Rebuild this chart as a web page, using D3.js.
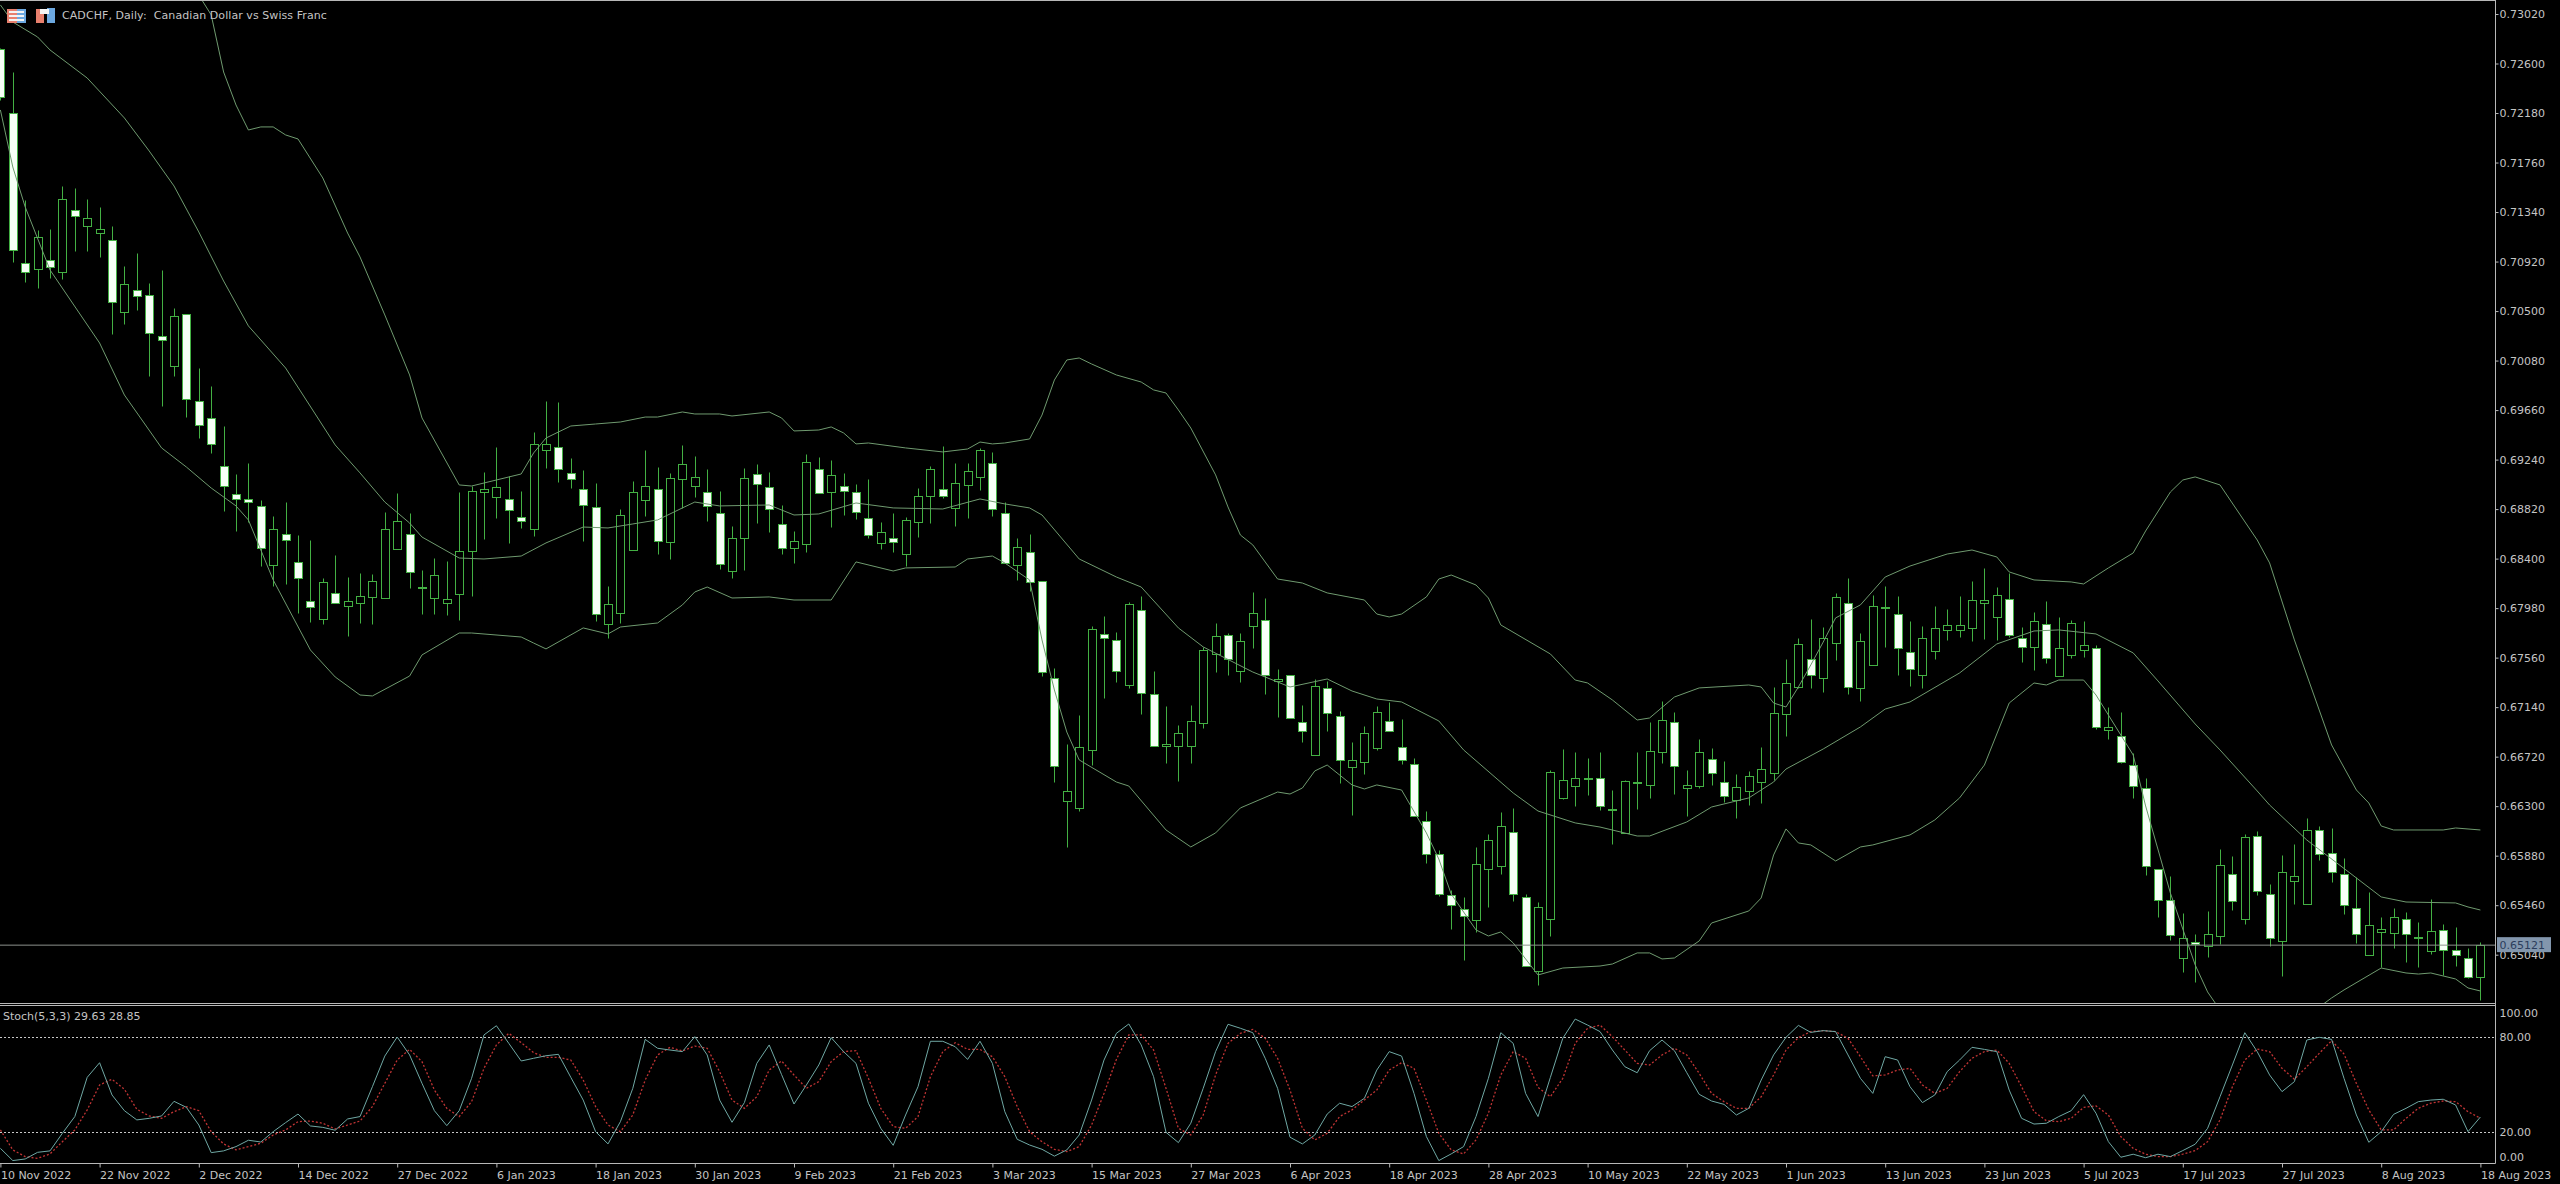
<!DOCTYPE html>
<html lang="en">
<head>
    <meta charset="UTF-8">
    <title>CADCHF, Daily</title>
    <script src="https://d3js.org/d3.v7.min.js"></script>
    <style>
        html, body { margin: 0; background: #000; overflow: hidden; }
        text { font-family: "DejaVu Sans", sans-serif; font-size: 11px; fill: #c4c4c4; }
        .domain { display: none; }
        .tick line { stroke: #b8b8b8; }
    </style>
</head>
<body>

<script>
// prices are in points (1 point = 0.00001)
const open = [
    72723,72180,70908,70857,70933,70832,71358,71222,71162,71103,
    70492,70679,70637,70289,70034,70475,69737,69593,69186,68948,
    68906,68847,68346,68609,68372,68041,67888,68109,67998,68024,
    68075,68066,68482,68609,68151,68066,68024,68100,68465,68965,
    68923,68906,68753,68651,69322,69347,69127,68991,68838,67846,
    67939,68473,68897,68991,68541,69076,69016,68965,68787,68295,
    68575,69118,69008,68694,68490,68524,69160,68965,69016,68965,
    68745,68533,68575,68439,68711,68931,68991,68830,69025,69093,
    69211,68787,68346,68456,68210,67387,66344,66285,66777,67761,
    67710,67328,67964,67252,66811,66811,66811,67006,67591,67752,
    67447,67829,67880,67362,67413,67014,66734,67303,67065,66632,
    66675,66794,67023,66802,66658,66174,65894,65547,65428,65335,
    65767,65793,66081,65530,64902,65343,66370,66471,66531,66539,
    66268,66073,66497,66480,66760,67014,66454,66471,66700,66505,
    66353,66429,66505,66582,67082,67311,67549,67387,67684,68024,
    67303,67498,67981,67930,67608,67413,67617,67795,67795,67812,
    68024,67905,68058,67727,67651,67846,67404,67583,67625,67642,
    66946,66895,66649,66454,65767,65504,65012,65148,65114,65199,
    65725,65343,66047,65555,65157,65665,65470,66098,65903,65725,
    65436,65038,65233,65224,65343,65182,65071,65250,65080,65012,64851
];
const close = [
    72316,71018,70832,71128,70874,71451,71307,71290,71196,70577,
    70730,70628,70314,70255,70458,69754,69534,69373,69016,68906,
    68880,68490,68651,68558,68236,67990,68202,68024,68041,68083,
    68210,68651,68719,68287,68159,68261,68058,68465,68974,68991,
    69008,68813,68719,69373,69373,69160,69076,68855,67930,68015,
    68770,68965,69016,68550,69084,69203,69093,68847,68355,68575,
    69084,69033,68821,68490,68550,69220,68957,69110,68974,68796,
    68600,68626,68541,68728,68931,69160,68931,69042,69143,69322,
    68821,68363,68499,68202,67438,66641,66425,66802,67803,67727,
    67447,68015,67260,66811,66828,66921,67023,67625,67744,67549,
    67701,67939,67413,67379,67049,66938,67320,67091,66692,66692,
    66921,67099,66938,66692,66217,65894,65555,65462,65368,65810,
    66013,66132,65555,64944,65445,66590,66522,66539,66539,66302,
    66276,66514,66505,66768,67031,66641,66480,66760,66582,66387,
    66463,66556,66615,67091,67345,67676,67413,67727,68075,67311,
    67701,67998,67990,67642,67464,67727,67812,67837,67837,68049,
    68049,68091,67752,67651,67871,67557,67642,67854,67667,66972,
    66972,66675,66471,65793,65504,65207,65182,65131,65216,65801,
    65496,66039,65580,65182,65742,65708,66098,65894,65742,65462,
    65216,65292,65258,65360,65216,65190,65241,65080,65038,64851,65121
];
const high = [
    72732,72528,71442,71188,71196,71561,71544,71451,71383,71222,
    70883,70993,70738,70849,70526,70475,70017,69864,69525,69118,
    69211,68897,68762,68880,68600,68558,68236,68431,68244,68278,
    68270,68796,68957,68787,68304,68405,68380,68965,69016,69135,
    69347,69101,68974,69474,69737,69729,69254,69152,69042,68168,
    68821,69059,69322,69177,69127,69364,69271,69160,68974,68677,
    69169,69203,69135,68855,68634,69288,69262,69237,69127,69033,
    69076,68711,68787,68753,68999,69186,69355,69211,69211,69339,
    69305,68880,68575,68609,68210,67472,66828,67074,67829,67913,
    67778,68032,68083,67447,67150,66989,67158,67651,67854,67769,
    67769,68117,68066,67464,67413,67158,67379,67362,67107,66845,
    66980,67150,67184,67040,66709,66259,65928,65589,65530,65954,
    66064,66251,66285,65555,65487,66607,66785,66760,66709,66760,
    66437,66522,66760,67014,67192,67099,66607,66870,66794,66683,
    66573,66599,66802,67311,67549,67727,67888,67820,68109,68236,
    67769,68091,68168,68083,67871,67829,67998,67973,68083,68210,
    68321,68159,68278,67820,67947,68041,67905,67880,67871,67667,
    67141,67099,66751,66539,65767,65708,65394,65216,65411,65937,
    65877,66064,66089,65640,65886,65979,66200,66132,66115,65860,
    65699,65572,65360,65436,65402,65318,65513,65301,65275,65097,65148
];
const low = [
    72291,70916,70747,70696,70781,70772,71010,71010,70959,70306,
    70390,70509,69949,69695,69949,69601,69423,69296,68804,68634,
    68711,68337,68168,68185,67939,67863,67846,68024,67744,67854,
    67846,68066,68482,68151,67930,67930,67922,67880,68083,68567,
    68745,68533,68660,68592,69169,69050,68999,68550,67871,67727,
    67854,68473,68762,68439,68397,68830,68923,68719,68312,68236,
    68304,68702,68626,68439,68363,68456,68957,68668,68770,68736,
    68575,68482,68456,68337,68583,68702,68914,68677,68745,68982,
    68762,68363,68219,68126,67404,66505,65954,66259,66649,67218,
    67354,67303,67082,66811,66666,66514,66666,66963,67438,67413,
    67354,67642,67252,67057,67049,66845,66734,66938,66497,66225,
    66573,66777,66938,66658,66217,65818,65538,65258,64995,65233,
    65445,65725,65496,64944,64783,65199,66361,66302,66395,66268,
    65979,66073,66276,66370,66666,66403,66217,66454,66480,66336,
    66200,66310,66327,66522,66895,67303,67303,67269,67540,67252,
    67192,67498,67651,67413,67320,67303,67549,67710,67735,67701,
    67718,67710,67735,67523,67455,67515,67404,67557,67566,66955,
    66870,66666,66370,65716,65360,65165,64893,64809,65021,65131,
    65419,65301,65547,65114,64860,65470,65470,65843,65657,65385,
    65140,65038,64936,65097,64978,64936,65046,64868,64944,64843,64656
];

// bollinger bands, read at the bars where the curves can be read
const upperBars = [
    10,16,17,18,19,20,21,22,23,24,26,28,29,31,33,34,37,38,40,42,
    43,44,46,48,50,52,53,55,56,58,59,62,63,64,66,67,68,69,70,73,
    76,78,79,80,81,83,84,85,86,87,88,90,92,93,94,95,96,98,99,100,
    101,103,105,107,110,111,112,113,115,116,117,119,120,121,125,127,128,130,132,133,
    135,137,141,142,143,144,145,146,147,148,150,152,154,157,159,161,162,164,167,168,
    170,172,173,175,176,177,179,182,183,185,187,188,190,191,192,193,197,198,200
];
const upperBand = [
    74242,73181,73012,72528,72248,72036,72062,72062,71994,71960,71629,71162,70959,70467,69958,69593,69025,69016,69067,69118,
    69296,69423,69525,69542,69559,69601,69601,69644,69627,69627,69610,69644,69593,69483,69491,69517,69466,69373,69381,69339,
    69305,69330,69389,69373,69381,69415,69618,69915,70085,70102,70051,69958,69898,69831,69805,69661,69508,69110,68838,68600,
    68516,68227,68193,68109,68049,67930,67905,67930,68075,68227,68261,68176,68066,67837,67591,67370,67345,67201,67031,67048,
    67226,67303,67328,67311,67175,67141,67311,67498,67692,67897,68007,68244,68337,68439,68473,68414,68287,68219,68202,68185,
    68321,68448,68634,68965,69067,69093,69025,68558,68363,67710,67116,66819,66437,66327,66132,66098,66098,66115,66098
];
const middleBars = [
    0,1,3,4,7,10,12,14,16,18,20,23,27,29,31,33,34,37,39,42,
    44,47,49,51,53,55,56,58,62,64,66,69,72,76,79,81,83,84,87,90,
    92,95,97,101,104,107,109,111,113,116,118,122,124,127,129,132,133,136,138,141,
    143,144,147,150,152,154,158,161,164,166,169,172,174,177,179,182,183,186,190,192,
    194,198,199,200
];
const middleBand = [
    73097,72952,72825,72715,72477,72138,71858,71561,71171,70755,70374,70017,69364,69127,68880,68702,68583,68405,68397,68422,
    68533,68668,68660,68694,68728,68830,68880,68847,68855,68770,68779,68872,68830,68821,68906,68864,68830,68770,68397,68244,
    68159,67812,67651,67438,67311,67379,67277,67209,67184,67023,66777,66412,66259,66158,66123,66047,66047,66166,66293,66370,
    66505,66615,66785,66972,67124,67184,67430,67676,67786,67795,67761,67600,67362,66997,66777,66429,66310,66013,65691,65530,
    65487,65479,65445,65419
];
const lowerBars = [
    0,1,2,4,8,10,13,15,17,19,20,22,25,27,29,30,33,34,37,38,
    42,43,44,47,49,50,53,55,56,57,59,62,64,67,69,72,73,77,78,80,
    81,83,84,85,86,87,90,91,94,96,98,100,103,104,105,106,107,109,110,111,
    113,115,116,117,119,120,121,122,124,126,129,130,132,133,134,135,137,138,141,142,
    143,144,145,146,148,150,151,154,156,158,160,162,164,165,166,168,169,172,173,175,
    177,178,179,181,183,185,187,188,189,192,194,195,196,198,199,200
];
const lowerBand = [
    72206,71722,71383,70849,70229,69788,69339,69177,68999,68847,68728,68219,67625,67396,67243,67235,67404,67583,67769,67769,
    67735,67684,67634,67812,67761,67820,67854,68007,68117,68159,68066,68075,68049,68049,68372,68295,68321,68329,68397,68422,
    68363,68219,67710,67286,66929,66692,66505,66471,66098,65954,66073,66285,66420,66403,66454,66599,66649,66480,66446,66480,
    66437,66073,65852,65555,65250,65199,65233,65140,64868,64927,64944,64961,65055,65055,65004,65012,65157,65309,65411,65521,
    65886,66107,65988,65971,65835,65954,65971,66056,66183,66370,66649,67175,67345,67328,67370,67370,67243,66734,66302,65563,
    64953,64724,64571,64274,63977,64401,64596,64673,64741,64927,64885,64876,64885,64834,64758,64732
];

// Stoch(5,3,3), one value a bar
const stochMain = [
    9.9,2.2,3.2,7.4,8.3,19.4,29.9,54.6,63.8,43.5,33.6,27.8,28.8,30.3,39.5,35.7,24.6,7.2,8.3,11,15,13.9,20.4,26.1,31.5,24,23.1,21.3,28.4,29.9,48.7,68,80,68.7,50.8,33.6,24.2,33.6,54,81.3,87.1,
    76,64.9,66.6,68.2,69.1,54.6,40.3,20.4,12.7,26.7,47.7,78.5,72.9,71.8,70.8,80.2,68.7,40.3,26.3,38.7,63.4,75,56.3,37.8,49.8,62.4,79.6,70.8,63.4,38.3,22.5,11.8,30.9,48.7,77.3,77.3,73.9,65.9,77.3,63.4,33,
    15.6,12,9.3,5,8.9,18.3,40.3,65.5,82.3,88.2,75,55,20,13.5,25.7,47.7,70.8,88,85.5,82.7,66.6,47.7,16.9,12.7,18.3,31.5,38.3,36.2,41.4,59.2,70.8,68,44.5,17.3,2.2,6.4,11,29.9,54,82.7,76,
    44.5,29.9,54.6,79.2,91.3,87.5,83.4,71.8,61.3,57.5,71.4,78.1,71.4,57.5,43.9,39.7,37.6,30.9,35.1,52.9,68.7,79.8,87.3,82.9,84,83.4,68.7,54,44.5,67.6,65.5,48.7,38.7,43.5,58.2,65.5,73.5,72.2,70.8,46.6,28.8,
    25.2,25.7,29.9,33.6,43.7,32,14.1,4.3,6.2,4,6.2,4.7,8.5,12.5,22.5,42.4,62.4,82.7,70.8,56.1,45.6,51.9,78.1,79.8,78.5,54,30.9,13.7,20.4,31.3,35.1,39.3,40.3,40.8,37.2,20.4,29.63
];
const stochSignal = [
    21.5,8.9,4.7,3.6,6.4,14.1,21.5,34.1,49.8,53.4,47.1,34.5,30.3,28.8,33,36.2,33.6,20.4,12.7,8.9,11,13.1,18.3,21.5,26.7,27.1,25.7,22.1,24.6,27.1,36.2,50.8,65.5,72.2,64.5,46.6,35.1,29.9,39.3,60.3,75,
    82.3,76.4,70.1,67.2,67.2,65.5,52.9,36.2,24.6,20.4,30.9,52.9,68.7,73.5,71.2,74.3,72.9,58.2,40.3,35.1,42.4,59.2,64.9,56.1,47.7,51.9,64.5,70.8,71.4,54,35.1,23.6,22.5,29.9,55,70.8,76.4,72.2,72.2,67.6,55,
    36.2,20.4,14.1,9.3,7.8,11,24.6,44.5,65.9,81.3,81.3,71.8,47.7,22.5,18.3,30.9,56.1,76,82.3,84.8,79.2,66.6,46.6,22.5,15.2,19.4,29.9,34.1,40.3,46.6,59.2,63.8,60.3,40.3,19.4,8.9,6.4,15.2,32,56.1,70.8,
    66.6,48.3,42.4,54,76,85.5,87.5,80.2,71.8,63.4,62.4,68.7,72.9,68.7,57.1,44.5,39.3,35.1,35.1,42.4,56.1,71.8,79.6,83.4,84,83.4,79.2,67.6,55.5,56.1,59.2,60.3,49.8,44.5,47.7,58.2,66.6,70.8,71.8,63.4,48.7,
    33,27.3,26.7,28.8,35.7,36.6,30.9,17.3,9.9,6.2,4.7,4.7,6.2,8.5,14.1,27.8,48.7,65.5,72.4,70.8,60.3,53.4,61.3,69.7,77.7,69.3,50.8,34.1,21.5,21.5,28.8,35.1,38.3,39.7,39.3,33,28.85
];

const priceTicks = [73020,72600,72180,71760,71340,70920,70500,70080,69660,69240,68820,68400,67980,67560,67140,66720,66300,65880,65460,65040];
const stochTicks = [100,80,20,0];
const stochLevels = [80,20];
const dateLabels = ["10 Nov 2022","22 Nov 2022","2 Dec 2022","14 Dec 2022","27 Dec 2022","6 Jan 2023","18 Jan 2023","30 Jan 2023","9 Feb 2023","21 Feb 2023","3 Mar 2023","15 Mar 2023","27 Mar 2023","6 Apr 2023","18 Apr 2023","28 Apr 2023","10 May 2023","22 May 2023","1 Jun 2023","13 Jun 2023","23 Jun 2023","5 Jul 2023","17 Jul 2023","27 Jul 2023","8 Aug 2023","18 Aug 2023"];
const dateBars = [0,8,16,24,32,40,48,56,64,72,80,88,96,104,112,120,128,136,144,152,160,168,176,184,192,200];
const lastPrice = 65121;

const width = 2560, height = 1184;
const axisX = 2495.5, mainBottom = 1003.5, stochTop = 1005.5, stochBottom = 1163.5;

const green = "#43b043", bandColor = "#6f9a6f", grey = "#b8b8b8";

const x = d3.scaleLinear().domain([0, 200]).range([0.4, 2480.4]);
const y = d3.scaleLinear().domain([73020, 65040]).range([14, 954.7]);
const yStoch = d3.scaleLinear().domain([80, 20]).range([1037, 1132.3]);
const px = i => Math.round(x(i)) + 0.5;
const py = v => Math.round(y(v)) + 0.5;

const svg = d3.select("body").append("svg")
    .attr("width", width)
    .attr("height", height)
    .style("display", "block")
    .style("background", "#000");

svg.append("clipPath").attr("id", "mainClip")
    .append("rect").attr("x", 0).attr("y", 1).attr("width", axisX).attr("height", mainBottom - 1);

const main = svg.append("g").attr("clip-path", "url(#mainClip)");
const bars = d3.range(open.length);

// wicks
main.append("g").selectAll("line")
    .data(bars)
    .enter().append("line")
    .attr("x1", px).attr("x2", px)
    .attr("y1", i => py(high[i]))
    .attr("y2", i => py(low[i]))
    .attr("stroke", green);

// bodies: white when the bar closed lower, hollow when it closed higher
main.append("g").selectAll("rect")
    .data(bars)
    .enter().append("rect")
    .attr("x", i => px(i) - 4)
    .attr("width", 8)
    .attr("y", i => py(Math.max(open[i], close[i])))
    .attr("height", i => py(Math.min(open[i], close[i])) - py(Math.max(open[i], close[i])))
    .attr("fill", i => close[i] < open[i] ? "#f6fff6" : "#000")
    .attr("stroke", green);

// bands
const bandLine = d3.line().x(d => x(d[0])).y(d => y(d[1]));
[[upperBars, upperBand], [middleBars, middleBand], [lowerBars, lowerBand]].forEach(b => {
    main.append("path")
        .attr("d", bandLine(d3.zip(b[0], b[1])))
        .attr("fill", "none")
        .attr("stroke", bandColor)
        .attr("stroke-width", 1);
});

// last price line
svg.append("line")
    .attr("x1", 0).attr("x2", axisX)
    .attr("y1", y(lastPrice)).attr("y2", y(lastPrice))
    .attr("stroke", "#8c918c");

// stochastic
stochLevels.forEach(v => {
    svg.append("line")
        .attr("x1", 0).attr("x2", axisX)
        .attr("y1", Math.round(yStoch(v)) + 0.5).attr("y2", Math.round(yStoch(v)) + 0.5)
        .attr("stroke", "#c8c8c8")
        .attr("stroke-dasharray", "2 2");
});
const stochLine = d3.line().x((d, i) => x(i)).y(d => yStoch(d));
svg.append("path")
    .attr("d", stochLine(stochSignal))
    .attr("fill", "none")
    .attr("stroke", "#c03434")
    .attr("stroke-width", 1.3)
    .attr("stroke-dasharray", "2 2");
svg.append("path")
    .attr("d", stochLine(stochMain))
    .attr("fill", "none")
    .attr("stroke", "#6fa8a4");

// frame
[[0, axisX, 0.5, 0.5], [axisX, axisX, 0, stochBottom], [0, axisX, mainBottom, mainBottom], [0, axisX, stochTop, stochTop], [0, axisX, stochBottom, stochBottom]].forEach(l => {
    svg.append("line")
        .attr("x1", l[0]).attr("x2", l[1]).attr("y1", l[2]).attr("y2", l[3])
        .attr("stroke", grey);
});

// axes
svg.append("g")
    .attr("transform", `translate(${axisX},0)`)
    .call(d3.axisRight(y).tickValues(priceTicks).tickSize(3).tickPadding(1).tickFormat(d => (d / 100000).toFixed(5)));

svg.append("g")
    .attr("transform", `translate(${axisX},0)`)
    .call(d3.axisRight(yStoch).tickValues(stochTicks).tickSize(0).tickPadding(4).tickFormat(d => d.toFixed(2)))
    .selectAll("text")
    .attr("y", d => d === 100 ? 7.5 : d === 0 ? -7 : 0);

svg.append("g")
    .attr("transform", `translate(0,${stochBottom})`)
    .call(d3.axisBottom(x).tickValues(dateBars).tickSize(4).tickPadding(2).tickFormat((d, i) => dateLabels[i]))
    .selectAll("text")
    .attr("text-anchor", "start")
    .attr("dy", "0.9em");

// last price tag sits over the axis labels
svg.append("rect")
    .attr("x", 2497).attr("y", y(lastPrice) - 8)
    .attr("width", 54).attr("height", 15)
    .attr("fill", "#8296ad");
svg.append("text")
    .attr("x", 2499.5).attr("y", y(lastPrice) + 4)
    .style("fill", "#2b3d5c")
    .text((lastPrice / 100000).toFixed(5));

// titles
svg.append("text").attr("x", 62).attr("y", 19).text("CADCHF, Daily:  Canadian Dollar vs Swiss Franc").attr("xml:space", "preserve").style("white-space", "pre").style("letter-spacing", "0.07px");
svg.append("text").attr("x", 3).attr("y", 1020).text("Stoch(5,3,3) 29.63 28.85");

// toolbar icons
const icons = svg.append("g");
icons.append("rect").attr("x", 7).attr("y", 9).attr("width", 10).attr("height", 14).attr("fill", "#e8806e");
icons.append("rect").attr("x", 17).attr("y", 9).attr("width", 9).attr("height", 14).attr("fill", "#6ca8e0");
d3.range(3).forEach(r => {
    icons.append("rect").attr("x", 9).attr("y", 11 + r * 4).attr("width", 15).attr("height", 2).attr("fill", "#f4f4f4");
});
icons.append("rect").attr("x", 36).attr("y", 9).attr("width", 8).attr("height", 14).attr("fill", "#e8806e");
icons.append("rect").attr("x", 47).attr("y", 8).attr("width", 8).attr("height", 15).attr("fill", "#6ca8e0");
icons.append("rect").attr("x", 40).attr("y", 9).attr("width", 9).attr("height", 5).attr("fill", "#f4f4f4");
</script>

</body>
</html>
